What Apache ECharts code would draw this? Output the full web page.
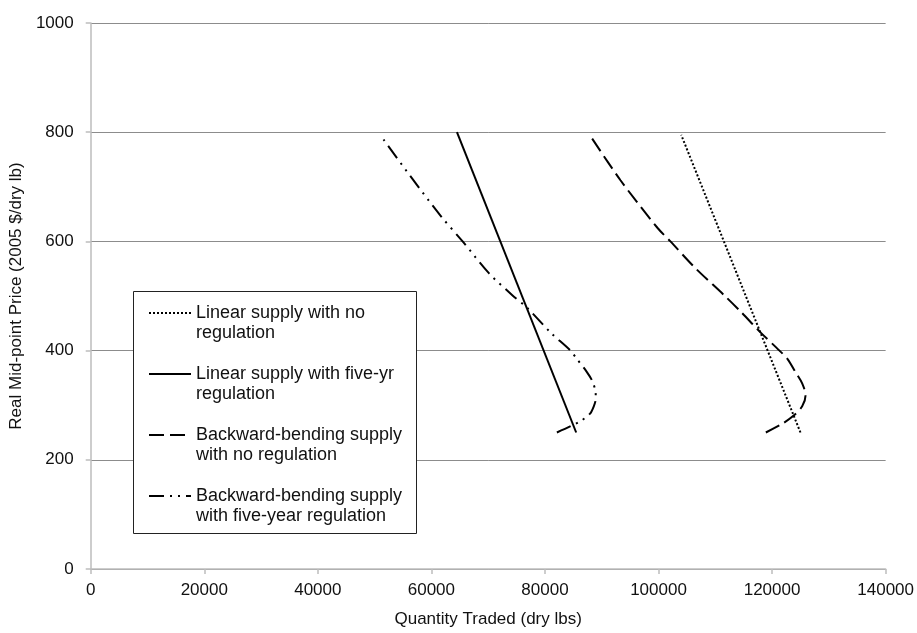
<!DOCTYPE html>
<html>
<head>
<meta charset="utf-8">
<script src="https://cdn.jsdelivr.net/npm/echarts@6/dist/echarts.min.js"></script>
<style>
html,body{margin:0;padding:0;background:#fff;}
#chart{width:917px;height:633px;}
</style>
</head>
<body>
<div id="chart"></div>
<script>
// Series names
const seriesNames = [
  'Linear supply with no\nregulation',
  'Linear supply with five-yr\nregulation',
  'Backward-bending supply\nwith no regulation',
  'Backward-bending supply\nwith five-year regulation'
];

// Linear supply, no regulation
const linNoRegPrice = [250, 795];
const linNoRegQty   = [125000, 104000];

// Linear supply, five-year regulation
const linFiveRegPrice = [250, 800];
const linFiveRegQty   = [85500, 64500];

// Backward-bending supply, no regulation
const bbNoRegPrice = [250, 266, 280, 298, 318, 340, 361, 385, 400, 433, 470, 500, 553, 600, 625, 712, 790];
const bbNoRegQty   = [118900, 121800, 123700, 125300, 125900, 125300, 124100, 122700, 121300, 118000, 114600, 111700, 106300, 102100, 99800, 93300, 88200];

// Backward-bending supply, five-year regulation
const bbFiveRegPrice = [250, 262, 271, 284, 298, 312, 325, 345, 362, 385, 401, 433, 478, 502, 541, 600, 646, 718, 789];
const bbFiveRegQty   = [82100, 84600, 86300, 87900, 88600, 88950, 88900, 88300, 87300, 85600, 84400, 81000, 76900, 74200, 70200, 65500, 61700, 56400, 51400];

// Axis ticks
const xTicks = [0, 20000, 40000, 60000, 80000, 100000, 120000, 140000];
const yTicks = [0, 200, 400, 600, 800, 1000];

function pairs(q, p) { return q.map((v, i) => [v, p[i]]); }

const FONT = '"Liberation Sans", Arial, sans-serif';
const chart = echarts.init(document.getElementById('chart'), null, {renderer: 'canvas'});

function lineSeries(name, data, dash, smooth) {
  return {
    name: name,
    type: 'line',
    data: data,
    showSymbol: false,
    symbol: 'none',
    smooth: smooth,
    animation: false,
    lineStyle: { color: '#000', width: 2, type: dash, cap: 'butt' },
    itemStyle: { color: '#000' },
    z: 3
  };
}

chart.setOption({
  animation: false,
  backgroundColor: '#fff',
  grid: { left: 90, right: 31, top: 23, bottom: 57, containLabel: false },
  xAxis: {
    type: 'value',
    min: xTicks[0], max: xTicks[xTicks.length - 1], interval: 20000,
    name: 'Quantity Traded (dry lbs)',
    nameLocation: 'middle', nameGap: 42,
    nameTextStyle: { fontSize: 17, color: '#111', fontFamily: FONT },
    axisLine: { show: true, onZero: false, lineStyle: { color: '#bdbdbd', width: 1.5 } },
    axisTick: { show: true, inside: false, length: 5, lineStyle: { color: '#bdbdbd', width: 1.5 } },
    axisLabel: { fontSize: 17, color: '#111', fontFamily: FONT, margin: 13, formatter: v => String(v) },
    splitLine: { show: false }
  },
  yAxis: {
    type: 'value',
    min: yTicks[0], max: yTicks[yTicks.length - 1], interval: 200,
    name: 'Real Mid-point Price (2005 $/dry lb)',
    nameLocation: 'middle', nameGap: 56, nameRotate: 90,
    nameTextStyle: { fontSize: 17, color: '#111', fontFamily: FONT },
    axisLine: { show: true, lineStyle: { color: '#bdbdbd', width: 1.5 } },
    axisTick: { show: true, inside: false, length: 5, lineStyle: { color: '#bdbdbd', width: 1.5 } },
    axisLabel: { fontSize: 17, color: '#111', fontFamily: FONT, margin: 17, formatter: v => String(v) },
    splitLine: { show: true, lineStyle: { color: '#8c8c8c', width: 1 } }
  },
  graphic: [{
    type: 'rect',
    z: 3,
    shape: { x: 133.5, y: 291.5, width: 283, height: 242 },
    style: { fill: '#fff', stroke: '#222', lineWidth: 1 },
    silent: true
  }],
  legend: {
    orient: 'vertical',
    left: 148, top: 283,
    padding: 0,
    z: 6,
    itemWidth: 42, itemHeight: 14, itemGap: 1,
    itemStyle: { opacity: 0 },
    textStyle: { fontSize: 18, lineHeight: 20, color: '#111', fontFamily: FONT },
    formatter: name => '\n' + name,
    data: seriesNames
  },
  series: [
    lineSeries(seriesNames[0], pairs(linNoRegQty, linNoRegPrice), [2, 2], false),
    lineSeries(seriesNames[1], pairs(linFiveRegQty, linFiveRegPrice), 'solid', false),
    lineSeries(seriesNames[2], pairs(bbNoRegQty, bbNoRegPrice), [15, 6], 0.3),
    lineSeries(seriesNames[3], pairs(bbFiveRegQty, bbFiveRegPrice), [15, 6, 2, 6, 2, 6], 0.3)
  ]
});
</script>
</body>
</html>
